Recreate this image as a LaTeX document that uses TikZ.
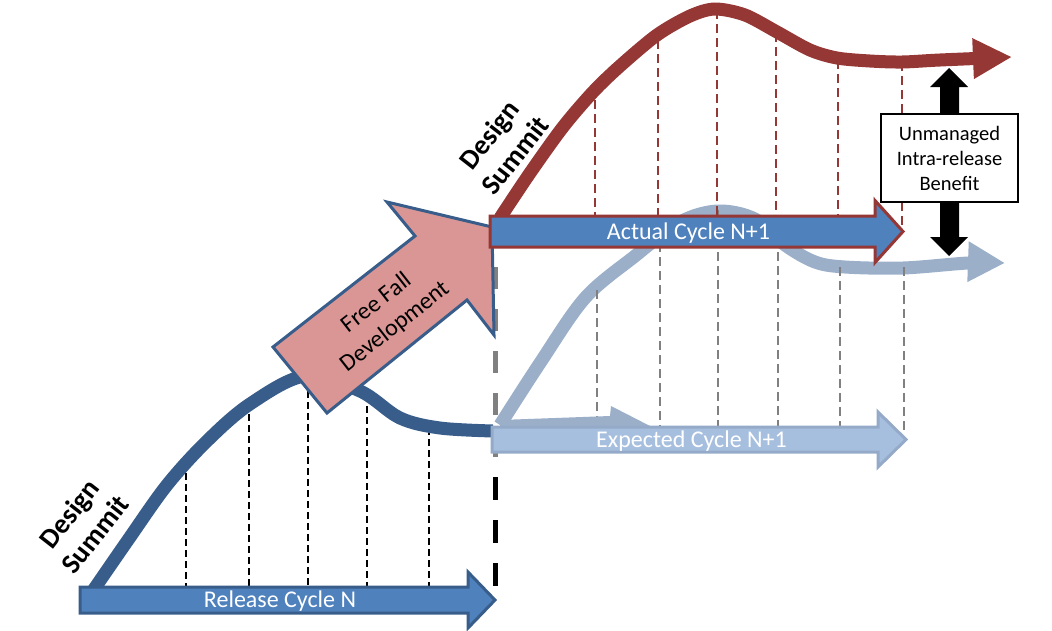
\documentclass[tikz,border=0pt]{standalone}
\usepackage{fontspec}
\setmainfont{Carlito}
\usetikzlibrary{arrows.meta}
\definecolor{relblue}{HTML}{4F81BD}
\definecolor{darkblue}{HTML}{385D8A}
\definecolor{darkred}{HTML}{953735}
\definecolor{pinkfill}{HTML}{D99694}
\definecolor{lightcurve}{HTML}{9BAFC9}
\definecolor{expfill}{HTML}{A7BFDE}
\definecolor{expborder}{HTML}{94AAC8}
\definecolor{gdash}{HTML}{808080}
\newcommand{\fatarrow}[7]{%
  \draw[#1] (#2,#5-#6) -- (#3,#5-#6) -- (#3,#5-#7) -- (#4,#5) -- (#3,#5+#7) -- (#3,#5+#6) -- (#2,#5+#6) -- cycle;}
\tikzset{
  bdash/.style={black, line width=1.5pt, dash pattern=on 7pt off 4pt},
  gvdash/.style={gdash, line width=2pt, dash pattern=on 9pt off 5pt},
  rdash/.style={darkred, line width=2pt, dash pattern=on 9pt off 5pt},
  curve/.style={line width=13pt},
  lbl/.style={text=white, font=\fontsize{24}{29}\selectfont, anchor=base},
  summit/.style={font=\bfseries\fontsize{28}{33}\selectfont, align=center, rotate=52},
}
\begin{document}
\begin{tikzpicture}[x=1pt,y=-1pt]
\useasboundingbox (0,0) rectangle (1052,630);
% black dashed verticals
\foreach \x/\t in {186/462, 249/403, 308/380, 367/395, 429/428}
  \draw[bdash] (\x,\t) -- (\x,588);
% big vertical dashed line
\draw[gdash, line width=5pt, dash pattern=on 22pt off 20pt] (495,225) -- (495,460);
\draw[black, line width=5pt, dash pattern=on 23pt off 20pt] (495,477) -- (495,587);
% dark blue curve
\draw[darkblue, curve] plot[smooth, tension=0.55] coordinates {(88,598) (128,540) (167,485) (207,441) (250,404) (305,376) (360,391) (400,418) (440,428) (493,431)};
% release arrow
\fatarrow{fill=relblue, draw=darkblue, line width=3pt}{80}{468}{495}{600}{13}{28}
\node[lbl] (rel) at (280,607.5) {Release Cycle N};
% pink free fall arrow
\draw[fill=pinkfill, draw=darkblue, line width=3pt, line join=miter] (273,347) -- (415,236) -- (387,202) -- (492,227) -- (494,335) -- (467,300) -- (327,413) -- cycle;
\node[font=\fontsize{24}{30}\selectfont, align=center, rotate=38] (ff) at (386,315) {Free Fall\\Development};
% light (expected) curve
\draw[lightcurve, curve, -{Triangle[length=37pt,width=38pt]}] plot[smooth, tension=0.55] coordinates {(500,425) (540,363) (585,298) (635,256) (680,222) (718,211) (755,219) (785,245) (815,262) (845,267) (903,268) (968,263) (1005,263)};
% gray dashed verticals
\foreach \x/\t/\b in {597/290/427, 660/243/427, 718/210/427, 778/238/427, 840/267/427, 904/267/432}
  \draw[gvdash] (\x,\t) -- (\x,\b);
% small light wedge
\fill[lightcurve] (500,427) -- (500,420) -- (610,416) -- (611,406) -- (652,427) -- cycle;
% expected arrow
\fatarrow{fill=expfill, draw=expborder, line width=3pt}{492}{878}{906}{439.5}{12.5}{27.5}
\node[lbl] (exp) at (691.5,447) {Expected Cycle N+1};
% red dashed verticals
\foreach \x/\t/\b in {595/100/216, 658/40/216, 717/10/216, 776/33/216, 838/60/216, 902/62/228}
  \draw[rdash] (\x,\t) -- (\x,\b);
% red curve
\draw[darkred, curve, -{Triangle[length=39pt,width=38pt]}] plot[smooth, tension=0.5] coordinates {(500,218) (530,173) (563,127) (593,92) (620,66) (657,35) (690,16) (715,9) (745,15) (777,32) (810,50) (837,58) (870,61) (902,62) (940,60) (1012,57)};
% actual arrow
\fatarrow{fill=relblue, draw=darkred, line width=3pt}{490}{875}{903}{231.5}{15.5}{31}
\node[lbl] (act) at (688.5,239) {Actual Cycle N+1};
% black double arrow
\fill[black] (949,68) -- (968,87) -- (959,87) -- (959,237) -- (968,237) -- (949,256) -- (930,237) -- (940,237) -- (940,87) -- (930,87) -- cycle;
\node[draw, line width=2pt, fill=white, minimum width=137pt, minimum height=88pt, align=center, font=\fontsize{20.5}{25}\selectfont] (box) at (949.5,158) {Unmanaged\\Intra-release\\Benefit};
% design summit labels
\node[summit] (ds1) at (82,524) {Design\\Summit};
\node[summit] (ds2) at (502,145) {Design\\Summit};
\end{tikzpicture}
\end{document}
